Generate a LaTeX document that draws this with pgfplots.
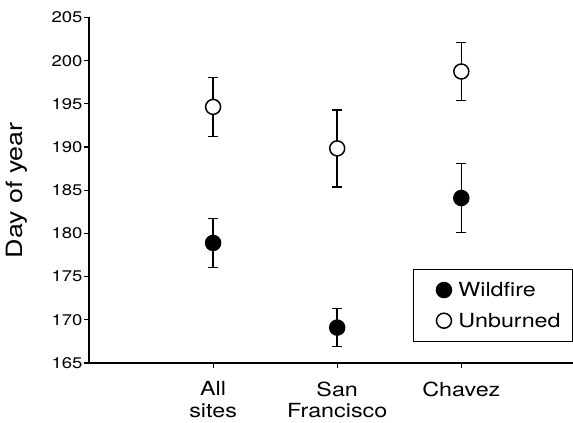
\documentclass[border=0pt]{standalone}
\usepackage{fontspec}
\setmainfont{TeX Gyre Heros}[FakeStretch=1.2]
\usepackage{pgfplots}
\pgfplotsset{compat=1.18}
\begin{document}
\begin{tikzpicture}
\begin{axis}[
  width=484bp, height=345.5bp, scale only axis,
  xmin=0, xmax=3.9, ymin=165, ymax=205,
  axis x line*=bottom, axis y line*=left,
  axis line style={line width=1.5bp,-},
  xtick={1,2,3},
  xticklabels={{All\\sites},{San\\Francisco},{Chavez}},
  ytick={165,170,...,205},
  tick style={line width=1.2bp, black},
  tick align=outside, major tick length=5bp,
  x tick label style={font=\fontsize{19.5}{22}\selectfont, align=center, anchor=north, yshift=-10bp},
  y tick label style={font=\fontsize{15.5}{17}\selectfont, xshift=2bp},
  /pgf/number format/assume math mode=true,
  ylabel={Day of year},
  ylabel style={font=\fontsize{22.5}{24}\selectfont, at={(axis description cs:-0.149,0.5)}, anchor=center},
  clip=false,
  legend image code/.code={%
    \path (-20bp,0bp) (12bp,0bp);
    \draw[#1] plot coordinates {(0bp,0bp)};},
  legend style={at={(1,0.061)}, anchor=south east, draw=black, line width=0.8bp,
    font=\fontsize{19.5}{22}\selectfont, inner xsep=10bp, inner ysep=11bp, row sep=11bp,
    cells={anchor=west}},
]
\addplot[only marks, mark=*, mark size=7.5bp,
  mark options={fill=black, draw=black, line width=1.5bp},
  error bars/.cd, y dir=both, y explicit,
  error bar style={line width=1.5bp, black},
  error mark options={rotate=90, mark size=5bp, line width=1.5bp, black}]
  coordinates {(1,178.9) +- (0,2.85) (2,169.1) +- (0,2.2) (3,184.1) +- (0,4.0)};
\addplot[only marks, mark=*, mark size=7.5bp,
  mark options={fill=white, draw=black, line width=1.5bp},
  error bars/.cd, y dir=both, y explicit,
  error bar style={line width=1.5bp, black},
  error mark options={rotate=90, mark size=5bp, line width=1.5bp, black}]
  coordinates {(1,194.65) +- (0,3.4) (2,189.85) +- (0,4.45) (3,198.75) +- (0,3.35)};
\addlegendimage{only marks, mark=*, mark size=7bp, mark options={fill=black, draw=black}}
\addlegendentry{Wildfire}
\addlegendimage{only marks, mark=*, mark size=5.8bp, mark options={fill=white, draw=black, line width=1.2bp}}
\addlegendentry{Unburned}
\end{axis}
\pgfresetboundingbox
\path ([shift={(-89bp,-59bp)}]current axis.south west) rectangle ([shift={(0bp,17.5bp)}]current axis.north east);
\end{tikzpicture}
\end{document}
